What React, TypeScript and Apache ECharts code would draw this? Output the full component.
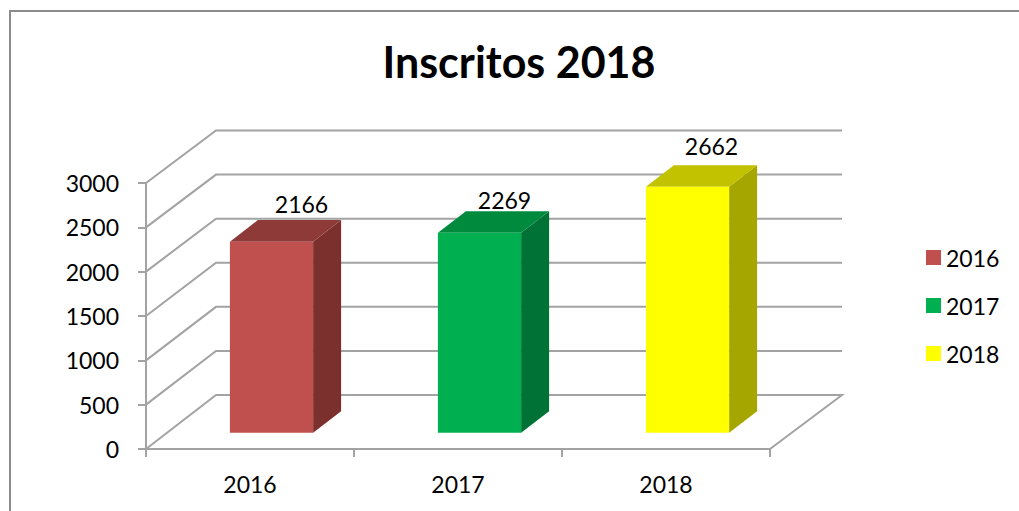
import React, { useEffect, useRef } from "react";
import * as echarts from "echarts";

const categories = ["2016", "2017", "2018"];
// Heights of the bars as drawn in the picture
const barHeights = [2155, 2255, 2775];
// Numbers printed above the bars
const dataLabels = ["2166", "2269", "2662"];
const yTicks = [0, 500, 1000, 1500, 2000, 2500, 3000];
const titleText = "Inscritos 2018";

const FONT = "Lato, Carlito, sans-serif";
const DEPTH_X = 70;
const DEPTH_Y = 54;
const faces = [
  { front: "#C0504D", top: "#8E3A38", side: "#7B302E" },
  { front: "#00B050", top: "#008A3E", side: "#007236" },
  { front: "#FFFF00", top: "#C2C200", side: "#A6A600" },
];
const labelOffsets = [
  [30, -38],
  [25, -33],
  [24, -41],
];

function wallItem(params: any, api: any) {
  const cs = params.coordSys;
  const v = api.value(0);
  const y = api.coord([0, v])[1];
  const left = cs.x;
  const right = cs.x + cs.width;
  const lift = DEPTH_Y - (v / 3000) * 1.5;
  const points = [
    [left, y],
    [left + DEPTH_X, y - lift],
    [right + DEPTH_X + 2, y - lift],
  ];
  if (v === 0) points.push([right, y]);
  return {
    type: "polyline",
    shape: { points },
    style: { fill: "none", stroke: "#A3A3A3", lineWidth: 2 },
    silent: true,
  };
}

function barRenderer(index: number) {
  return (_params: any, api: any) => {
    const base = api.coord([api.value(0), 0]);
    const topPt = api.coord([api.value(0), api.value(1)]);
    const w = api.size([1, 0])[0] * 0.4;
    const ox = 0.3 * DEPTH_X;
    const oy = 0.3 * DEPTH_Y;
    const dx = 0.4 * DEPTH_X;
    const dy = 0.4 * DEPTH_Y;
    const x0 = base[0] - w / 2 + ox + 0.5;
    const x1 = base[0] + w / 2 + ox + 0.5;
    const yb = base[1] - oy;
    const yt = topPt[1] - oy;
    const c = faces[index];
    const poly = (points: number[][], fill: string) => ({
      type: "polygon",
      shape: { points },
      style: { fill, stroke: "none" },
    });
    return {
      type: "group",
      children: [
        poly([[x1, yb], [x1 + dx, yb - dy], [x1 + dx, yt - dy], [x1, yt]], c.side),
        poly([[x0, yt], [x0 + dx, yt - dy], [x1 + dx, yt - dy], [x1, yt]], c.top),
        poly([[x0, yb], [x1, yb], [x1, yt], [x0, yt]], c.front),
        {
          type: "text",
          style: {
            text: dataLabels[index],
            x: (x0 + x1) / 2 + labelOffsets[index][0],
            y: yt + labelOffsets[index][1],
            align: "center",
            verticalAlign: "middle",
            fontFamily: FONT,
            fontSize: 23,
            fill: "#000",
          },
        },
      ],
    };
  };
}

export default function App() {
  const ref = useRef<HTMLDivElement>(null);
  useEffect(() => {
    const chart = echarts.init(ref.current!, undefined, { renderer: "svg" });
    chart.setOption({
      animation: false,
      backgroundColor: "#fff",
      title: {
        text: titleText,
        left: 514,
        top: 35,
        textAlign: "center",
        textStyle: { fontFamily: FONT, fontSize: 43, fontWeight: "bold", color: "#000" },
      },
      legend: {
        orient: "vertical",
        left: 921,
        top: 241,
        itemWidth: 15,
        itemHeight: 15,
        itemGap: 25,
        icon: "rect",
        selectedMode: false,
        data: categories,
        textStyle: { fontFamily: FONT, fontSize: 23, color: "#000" },
      },
      grid: { left: 146, right: 249, top: 183, bottom: 62 },
      xAxis: {
        type: "category",
        data: categories,
        axisLine: { lineStyle: { color: "#A3A3A3", width: 2 } },
        axisTick: { show: true, length: 8, lineStyle: { color: "#A3A3A3", width: 2 } },
        axisLabel: { fontFamily: FONT, fontSize: 23, color: "#000", margin: 23 },
      },
      yAxis: {
        type: "value",
        min: 0,
        max: 3000,
        interval: 500,
        splitLine: { show: false },
        axisLine: { show: true, lineStyle: { color: "#A3A3A3", width: 2 } },
        axisTick: { show: true, length: 8, lineStyle: { color: "#A3A3A3", width: 2 } },
        axisLabel: {
          fontFamily: FONT,
          fontSize: 23,
          color: "#000",
          margin: 27,
          formatter: (v: number) => String(v),
        },
      },
      graphic: [
        {
          type: "polyline",
          silent: true,
          shape: { points: [[10, 511], [10, 11], [1019, 11]] },
          style: { fill: "none", stroke: "#8C8C8C", lineWidth: 2 },
        },
      ],
      series: [
        {
          type: "custom",
          name: "walls",
          silent: true,
          z: 1,
          renderItem: wallItem,
          encode: { y: 0 },
          data: yTicks.map((v) => [v]),
          tooltip: { show: false },
        },
        ...categories.map((name, i) => ({
          type: "custom",
          name,
          z: 3,
          renderItem: barRenderer(i),
          encode: { x: 0, y: 1 },
          itemStyle: { color: faces[i].front },
          data: [[name, barHeights[i]]],
        })),
      ],
    });
    return () => chart.dispose();
  }, []);
  return (
    <div
      ref={ref}
      style={{ position: "fixed", left: 0, top: 0, width: 1019, height: 511 }}
    />
  );
}
